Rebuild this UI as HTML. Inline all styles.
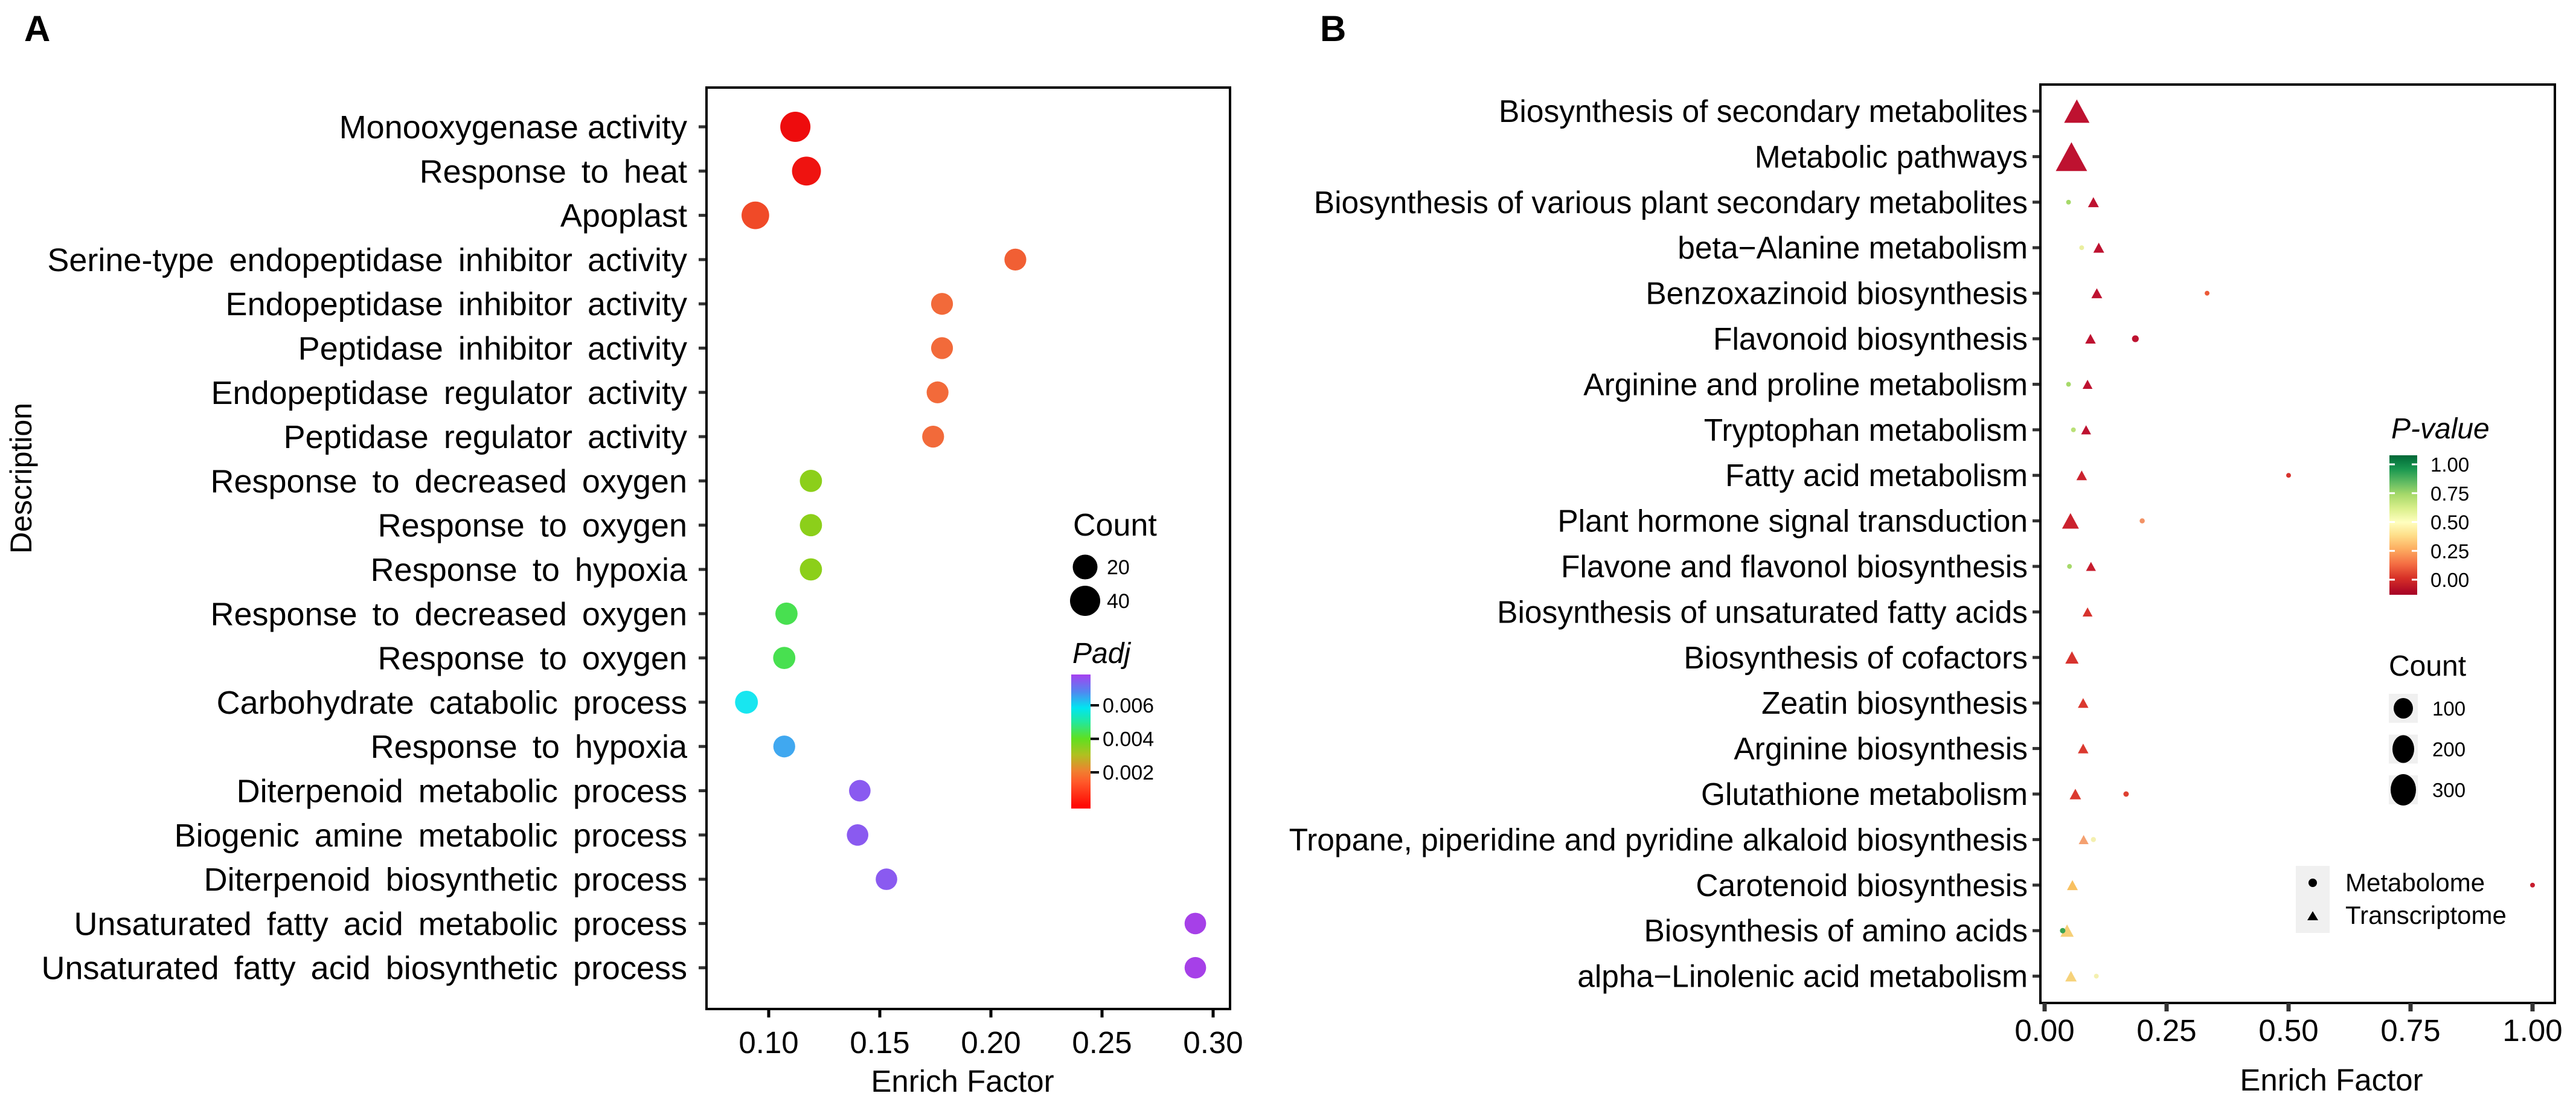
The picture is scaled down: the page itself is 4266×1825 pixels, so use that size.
<!DOCTYPE html>
<html><head><meta charset="utf-8">
<style>
html,body{margin:0;padding:0;background:#fff;}
svg{display:block;font-family:"Liberation Sans",Arial,sans-serif;}
</style></head>
<body>
<svg id="fig" width="4266" height="1825" viewBox="0 0 4266 1825" xmlns="http://www.w3.org/2000/svg">
<defs>
<linearGradient id="gradA" x1="0" y1="1" x2="0" y2="0">
<stop offset="0" stop-color="#ff0000"/><stop offset="0.2" stop-color="#ff5a2a"/><stop offset="0.28" stop-color="#f08030"/>
<stop offset="0.4" stop-color="#b0c020"/><stop offset="0.52" stop-color="#60e020"/><stop offset="0.65" stop-color="#20e8a0"/>
<stop offset="0.75" stop-color="#00e6f0"/><stop offset="0.87" stop-color="#5088f0"/><stop offset="1" stop-color="#a640f0"/>
</linearGradient>
<linearGradient id="gradB" x1="0" y1="1" x2="0" y2="0">
<stop offset="0" stop-color="#a50026"/><stop offset="0.12" stop-color="#d73027"/><stop offset="0.22" stop-color="#f46d43"/>
<stop offset="0.33" stop-color="#fdae61"/><stop offset="0.43" stop-color="#fee08b"/><stop offset="0.52" stop-color="#ffffbf"/>
<stop offset="0.62" stop-color="#d9ef8b"/><stop offset="0.72" stop-color="#a6d96a"/><stop offset="0.8" stop-color="#66bd63"/>
<stop offset="0.9" stop-color="#1a9850"/><stop offset="1" stop-color="#006837"/>
</linearGradient>
</defs>
<text x="40" y="68" font-size="60" font-weight="bold">A</text>
<text x="2186" y="68" font-size="60" font-weight="bold">B</text>
<g id="panelA"></g>
<g id="panelB"></g>
</svg>
<script>
// ---------- Panel A data ----------
const catsA = ["Monooxygenase activity","Response to heat","Apoplast","Serine-type endopeptidase inhibitor activity","Endopeptidase inhibitor activity","Peptidase inhibitor activity","Endopeptidase regulator activity","Peptidase regulator activity","Response to decreased oxygen","Response to oxygen","Response to hypoxia","Response to decreased oxygen","Response to oxygen","Carbohydrate catabolic process","Response to hypoxia","Diterpenoid metabolic process","Biogenic amine metabolic process","Diterpenoid biosynthetic process","Unsaturated fatty acid metabolic process","Unsaturated fatty acid biosynthetic process"];
const enrichA = [0.112,0.117,0.094,0.211,0.178,0.178,0.176,0.174,0.119,0.119,0.119,0.108,0.107,0.090,0.107,0.141,0.140,0.153,0.292,0.292];
const countA = [40,35,30,11,11,11,11,11,12,12,12,12,12,14,11,10,10,10,10,10];
const padjA = [0.0002,0.0003,0.0012,0.0016,0.0018,0.0018,0.0018,0.0018,0.0037,0.0037,0.0037,0.0045,0.0045,0.0058,0.0066,0.0075,0.0075,0.0075,0.0079,0.0079];
const ticksA = [0.10,0.15,0.20,0.25,0.30];
const tickLabelsA = ["0.10","0.15","0.20","0.25","0.30"];
const padjTicks = [0.002,0.004,0.006];
const padjTickLabels = ["0.002","0.004","0.006"];
const countLegA = [20,40];

// ---------- Panel B data ----------
const catsB = ["Biosynthesis of secondary metabolites","Metabolic pathways","Biosynthesis of various plant secondary metabolites","beta\u2212Alanine metabolism","Benzoxazinoid biosynthesis","Flavonoid biosynthesis","Arginine and proline metabolism","Tryptophan metabolism","Fatty acid metabolism","Plant hormone signal transduction","Flavone and flavonol biosynthesis","Biosynthesis of unsaturated fatty acids","Biosynthesis of cofactors","Zeatin biosynthesis","Arginine biosynthesis","Glutathione metabolism","Tropane, piperidine and pyridine alkaloid biosynthesis","Carotenoid biosynthesis","Biosynthesis of amino acids","alpha\u2212Linolenic acid metabolism"];
const transEnrich = [0.066,0.055,0.100,0.111,0.107,0.094,0.088,0.085,0.076,0.053,0.095,0.088,0.056,0.079,0.079,0.063,0.080,0.057,0.046,0.054];
const transCount = [196,300,36,36,36,34,30,30,34,87,30,30,54,34,34,40,30,36,54,40];
const transP = [0.0,0.0,0.0,0.0,0.0,0.0,0.0,0.0,0.03,0.03,0.02,0.06,0.06,0.07,0.07,0.07,0.22,0.3,0.35,0.36];
const metaRow = [2,3,4,5,6,7,8,9,10,15,16,17,18,19];
const metaEnrich = [0.049,0.076,0.333,0.186,0.049,0.059,0.500,0.200,0.051,0.167,0.100,1.000,0.037,0.106];
const metaCount = [7,7,7,14,7,7,7,8,7,9,8,7,9,7];
const metaP = [0.72,0.55,0.12,0.0,0.72,0.68,0.06,0.2,0.72,0.08,0.5,0.02,0.9,0.5];
const ticksB = [0,0.25,0.5,0.75,1.0];
const tickLabelsB = ["0.00","0.25","0.50","0.75","1.00"];
const pTicks = [0,0.25,0.5,0.75,1.0];
const pTickLabels = ["0.00","0.25","0.50","0.75","1.00"];
const countLegB = [100,200,300];

const NS = "http://www.w3.org/2000/svg";
function mk(parent, tag, attrs, txt){
  const e = document.createElementNS(NS, tag);
  for (const k in attrs) e.setAttribute(k, attrs[k]);
  if (txt !== undefined) e.textContent = txt;
  parent.appendChild(e);
  return e;
}
function lerpColor(stops, v){
  if (v <= stops[0][0]) return stops[0][1];
  for (let i=1;i<stops.length;i++){
    if (v <= stops[i][0]){
      const [a,ca]=stops[i-1],[b,cb]=stops[i];
      const t=(v-a)/(b-a);
      const pa=[1,3,5].map(j=>parseInt(ca.substr(j,2),16)), pb=[1,3,5].map(j=>parseInt(cb.substr(j,2),16));
      return "rgb("+pa.map((x,k)=>Math.round(x+(pb[k]-x)*t)).join(",")+")";
    }
  }
  return stops[stops.length-1][1];
}
const stopsA = [[0,"#ee0008"],[0.0012,"#f04a28"],[0.0018,"#f26a3a"],[0.003,"#b0c020"],[0.0037,"#8ccf1a"],[0.0045,"#48e050"],[0.0058,"#18e6f0"],[0.0066,"#40a8f0"],[0.0075,"#8a5af0"],[0.0079,"#a640e8"]];
const stopsB = [[0,"#be1230"],[0.05,"#d42c2c"],[0.12,"#ec5a38"],[0.22,"#f4a070"],[0.3,"#f8c060"],[0.36,"#f6d27a"],[0.5,"#f4f0b0"],[0.6,"#e0ee90"],[0.72,"#a6d96a"],[0.85,"#66bd63"],[0.92,"#2a9a4a"],[1,"#006837"]];

// ---------- Panel A ----------
(function(){
  const g = document.getElementById("panelA");
  const L=1170,R=2037,T=145,B=1671;
  const y0=210, dy=73.3;
  const xA = v => 1273 + (v-0.10)*3680;
  const yA = i => y0 + i*dy;
  const dA = c => Math.sqrt(862 + 40.95*c);
  const box = mk(g,"rect",{x:L,y:T,width:R-L,height:B-T,fill:"none",stroke:"#000","stroke-width":4});
  
  
  catsA.forEach((c,i)=>{
    const t = mk(g,"text",{x:1138,y:yA(i)+19,"font-size":54,"text-anchor":"end","word-spacing":i===0?0:10,fill:"#000"},c);
    
    
    const tk = mk(g,"line",{x1:L-13,x2:L-2,y1:yA(i),y2:yA(i),stroke:"#333","stroke-width":5});
    
    
  });
  enrichA.forEach((v,i)=>{
    const d = dA(countA[i]);
    const c = mk(g,"circle",{cx:xA(v),cy:yA(i),r:d/2,fill:lerpColor(stopsA,padjA[i])});
    
    
  });
  ticksA.forEach((v,i)=>{
    const tk = mk(g,"line",{x1:xA(v),x2:xA(v),y1:B,y2:B+14,stroke:"#000","stroke-width":5});
    
    
    const t = mk(g,"text",{x:xA(v),y:1744,"font-size":51,"text-anchor":"middle"},tickLabelsA[i]);
    
    
  });
  const xt = mk(g,"text",{x:1594,y:1808,"font-size":51,"text-anchor":"middle"},"Enrich Factor");
  
  
  const yt = mk(g,"text",{x:0,y:0,"font-size":50,"text-anchor":"middle",transform:"translate(52,792) rotate(-90)"},"Description");
  
  
  const ct = mk(g,"text",{x:1777,y:887,"font-size":52},"Count");
  
  
  countLegA.forEach((c,i)=>{
    const cy = 939 + i*56;
    const k = mk(g,"circle",{cx:1797,cy:cy,r:dA(c)/2,fill:"#000"});
    
    
    const t = mk(g,"text",{x:1833,y:cy+12,"font-size":34},String(c));
    
    
  });
  const pt = mk(g,"text",{x:1776,y:1098,"font-size":48,"font-style":"italic"},"Padj");
  
  
  const cbTop=1117, cbBot=1339, vTop=0.00784, vBot=-0.00016;
  const yc = v => cbBot - (v-vBot)/(vTop-vBot)*(cbBot-cbTop);
  const bar = mk(g,"rect",{x:1774,y:cbTop,width:32,height:cbBot-cbTop,fill:"url(#gradA)"});
  
  
  padjTicks.forEach((v,i)=>{
    const tk = mk(g,"line",{x1:1806,x2:1820,y1:yc(v),y2:yc(v),stroke:"#000","stroke-width":4});
    
    
    const t = mk(g,"text",{x:1826,y:yc(v)+12,"font-size":34},padjTickLabels[i]);
    
    
  });
})();

// ---------- Panel B ----------
(function(){
  const g = document.getElementById("panelB");
  const L=3379,R=4231,T=140,B=1661;
  const y0=184, dy=75.4;
  const xB = v => 3386 + v*808;
  const yB = i => y0 + i*dy;
  const dB = c => 3*Math.sqrt(c);
  const box = mk(g,"rect",{x:L,y:T,width:R-L,height:B-T,fill:"none",stroke:"#000","stroke-width":4});
  
  
  catsB.forEach((c,i)=>{
    const t = mk(g,"text",{x:3358,y:yB(i)+18,"font-size":51.5,"text-anchor":"end"},c);
    
    
    const tk = mk(g,"line",{x1:L-13,x2:L-2,y1:yB(i),y2:yB(i),stroke:"#333","stroke-width":5});
    
    
  });
  transEnrich.forEach((v,i)=>{
    const w = dB(transCount[i]), h = w*0.92;
    const cx = xB(v), cy = yB(i);
    const p = mk(g,"polygon",{points:(cx-w/2)+","+(cy+h/2)+" "+(cx+w/2)+","+(cy+h/2)+" "+cx+","+(cy-h/2),fill:lerpColor(stopsB,transP[i])});
    
    
  });
  metaEnrich.forEach((v,i)=>{
    const c = mk(g,"circle",{cx:xB(v),cy:yB(metaRow[i]),r:dB(metaCount[i])/2,fill:lerpColor(stopsB,metaP[i])});
    
    
  });
  ticksB.forEach((v,i)=>{
    const tk = mk(g,"line",{x1:xB(v),x2:xB(v),y1:B,y2:B+14,stroke:"#333","stroke-width":7});
    
    
    const t = mk(g,"text",{x:xB(v),y:1724,"font-size":51,"text-anchor":"middle"},tickLabelsB[i]);
    
    
  });
  const xt = mk(g,"text",{x:3861,y:1806,"font-size":51,"text-anchor":"middle"},"Enrich Factor");
  
  
  const pt = mk(g,"text",{x:3960,y:726,"font-size":48,"font-style":"italic"},"P-value");
  
  
  const cbTop=754, cbBot=985;
  const yc = v => 960 - v*191;
  const bar = mk(g,"rect",{x:3957,y:cbTop,width:46,height:cbBot-cbTop,fill:"url(#gradB)"});
  
  
  pTicks.forEach((v,i)=>{
    const t1 = mk(g,"line",{x1:3957,x2:3966,y1:yc(v),y2:yc(v),stroke:"#fff","stroke-width":3});
    
    
    const t2 = mk(g,"line",{x1:3994,x2:4003,y1:yc(v),y2:yc(v),stroke:"#fff","stroke-width":3});
    
    
    const t = mk(g,"text",{x:4025,y:yc(v)+12,"font-size":33},pTickLabels[i]);
    
    
  });
  const ct = mk(g,"text",{x:3956,y:1119,"font-size":48},"Count");
  
  
  const keyW=[32,36,42], keyH=[34,46,52];
  countLegB.forEach((c,i)=>{
    const cy = 1173 + i*67.5;
    const bg = mk(g,"rect",{x:3956,y:cy-24,width:48,height:48,fill:"#f0f0f0"});
    
    
    const k = mk(g,"ellipse",{cx:3980,cy:cy,rx:keyW[i]/2,ry:keyH[i]/2,fill:"#000"});
    
    
    const t = mk(g,"text",{x:4028,y:cy+12,"font-size":33},String(c));
    
    
  });
  const sbg = mk(g,"rect",{x:3802,y:1434,width:56,height:111,fill:"#f0f0f0"});
  
  
  const sd = mk(g,"circle",{cx:3830,cy:1462,r:7,fill:"#000"});
  
  
  const st = mk(g,"polygon",{points:"3821,1524 3839,1524 3830,1509",fill:"#000"});
  
  
  const l1 = mk(g,"text",{x:3884,y:1476,"font-size":42},"Metabolome");
  
  
  const l2 = mk(g,"text",{x:3884,y:1530,"font-size":42},"Transcriptome");
  
  
})();
</script>
</body></html>
